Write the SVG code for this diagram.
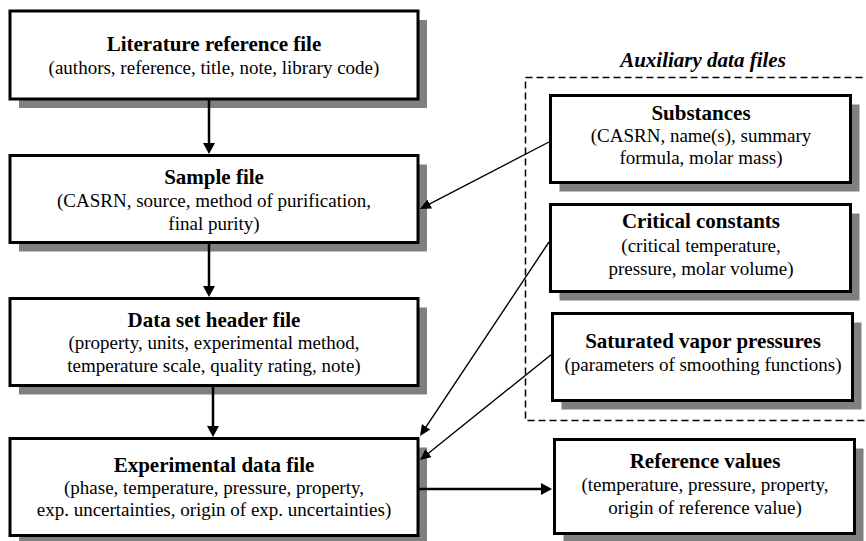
<svg xmlns="http://www.w3.org/2000/svg" width="866" height="541" viewBox="0 0 866 541">
<defs>
<marker id="ah" markerUnits="userSpaceOnUse" markerWidth="12" markerHeight="12" refX="7" refY="6" orient="auto">
<path d="M0,0 L11,6 L0,12 Z" fill="#000"/>
</marker>
<marker id="ahs" markerUnits="userSpaceOnUse" markerWidth="12" markerHeight="10" refX="7" refY="5" orient="auto">
<path d="M0,0 L11,5 L0,10 Z" fill="#000"/>
</marker>
</defs>
<rect x="0" y="0" width="866" height="541" fill="#ffffff"/>

<g id="auxiliary-group">
<text x="703" y="67" font-family="Times New Roman, Liberation Serif, serif" font-size="21" font-weight="bold" font-style="italic" text-anchor="middle">Auxiliary data files</text>
<rect x="525.5" y="77.5" width="350" height="343" fill="none" stroke="#000" stroke-width="1.5" stroke-dasharray="7,4"/>
</g>

<g id="literature">
<rect x="19" y="20" width="408" height="88" fill="#808080"/>
<rect x="10" y="11" width="408" height="88" fill="#fff" stroke="#000" stroke-width="3"/>
<text x="214" y="51" font-family="Times New Roman, Liberation Serif, serif" font-size="21" font-weight="bold" text-anchor="middle">Literature reference file</text>
<text x="214" y="74" font-family="Times New Roman, Liberation Serif, serif" font-size="19" text-anchor="middle">(authors, reference, title, note, library code)</text>
</g>

<g id="sample">
<rect x="19" y="164.5" width="408" height="87" fill="#808080"/>
<rect x="10" y="155.5" width="408" height="87" fill="#fff" stroke="#000" stroke-width="3"/>
<text x="214" y="184" font-family="Times New Roman, Liberation Serif, serif" font-size="21" font-weight="bold" text-anchor="middle">Sample file</text>
<text x="214" y="207" font-family="Times New Roman, Liberation Serif, serif" font-size="19" text-anchor="middle">(CASRN, source, method of purification,</text>
<text x="214" y="230" font-family="Times New Roman, Liberation Serif, serif" font-size="19" text-anchor="middle">final purity)</text>
</g>

<g id="header">
<rect x="19" y="307.5" width="408" height="87" fill="#808080"/>
<rect x="10" y="298.5" width="408" height="87" fill="#fff" stroke="#000" stroke-width="3"/>
<text x="214" y="327" font-family="Times New Roman, Liberation Serif, serif" font-size="21" font-weight="bold" text-anchor="middle">Data set header file</text>
<text x="214" y="349" font-family="Times New Roman, Liberation Serif, serif" font-size="19" text-anchor="middle">(property, units, experimental method,</text>
<text x="214" y="372" font-family="Times New Roman, Liberation Serif, serif" font-size="19" text-anchor="middle">temperature scale, quality rating, note)</text>
</g>

<g id="experimental">
<rect x="19" y="447.5" width="408" height="97" fill="#808080"/>
<rect x="10" y="438.5" width="408" height="97" fill="#fff" stroke="#000" stroke-width="3"/>
<text x="214" y="472" font-family="Times New Roman, Liberation Serif, serif" font-size="21" font-weight="bold" text-anchor="middle">Experimental data file</text>
<text x="214" y="494" font-family="Times New Roman, Liberation Serif, serif" font-size="19" text-anchor="middle">(phase, temperature, pressure, property,</text>
<text x="214" y="516" font-family="Times New Roman, Liberation Serif, serif" font-size="19" text-anchor="middle">exp. uncertainties, origin of exp. uncertainties)</text>
</g>

<g id="substances">
<rect x="559.5" y="104.5" width="300" height="87" fill="#808080"/>
<rect x="550.5" y="95.5" width="300" height="87" fill="#fff" stroke="#000" stroke-width="3"/>
<text x="701" y="120" font-family="Times New Roman, Liberation Serif, serif" font-size="21" font-weight="bold" text-anchor="middle">Substances</text>
<text x="701" y="142" font-family="Times New Roman, Liberation Serif, serif" font-size="19" text-anchor="middle">(CASRN, name(s), summary</text>
<text x="701" y="164" font-family="Times New Roman, Liberation Serif, serif" font-size="19" text-anchor="middle">formula, molar mass)</text>
</g>

<g id="critical">
<rect x="559.5" y="213.5" width="300" height="87" fill="#808080"/>
<rect x="550.5" y="204.5" width="300" height="87" fill="#fff" stroke="#000" stroke-width="3"/>
<text x="701" y="228" font-family="Times New Roman, Liberation Serif, serif" font-size="21" font-weight="bold" text-anchor="middle">Critical constants</text>
<text x="701" y="252" font-family="Times New Roman, Liberation Serif, serif" font-size="19" text-anchor="middle">(critical temperature,</text>
<text x="701" y="275" font-family="Times New Roman, Liberation Serif, serif" font-size="19" text-anchor="middle">pressure, molar volume)</text>
</g>

<g id="saturated">
<rect x="561.5" y="322.5" width="300" height="87" fill="#808080"/>
<rect x="552.5" y="313.5" width="300" height="87" fill="#fff" stroke="#000" stroke-width="3"/>
<text x="703" y="348" font-family="Times New Roman, Liberation Serif, serif" font-size="21" font-weight="bold" text-anchor="middle">Saturated vapor pressures</text>
<text x="703" y="371" font-family="Times New Roman, Liberation Serif, serif" font-size="19" text-anchor="middle">(parameters of smoothing functions)</text>
</g>

<g id="reference">
<rect x="563.5" y="448.5" width="300" height="94" fill="#808080"/>
<rect x="554.5" y="439.5" width="300" height="94" fill="#fff" stroke="#000" stroke-width="3"/>
<text x="705" y="468" font-family="Times New Roman, Liberation Serif, serif" font-size="21" font-weight="bold" text-anchor="middle">Reference values</text>
<text x="705" y="491" font-family="Times New Roman, Liberation Serif, serif" font-size="19" text-anchor="middle">(temperature, pressure, property,</text>
<text x="705" y="514" font-family="Times New Roman, Liberation Serif, serif" font-size="19" text-anchor="middle">origin of reference value)</text>
</g>

<g id="connectors" stroke="#000" fill="none">
<line x1="209" y1="100" x2="209" y2="150" stroke-width="2.5" marker-end="url(#ah)"/>
<line x1="209" y1="244" x2="209" y2="293" stroke-width="2.5" marker-end="url(#ah)"/>
<line x1="213" y1="387" x2="213" y2="433" stroke-width="2.5" marker-end="url(#ah)"/>
<line x1="419" y1="489" x2="548" y2="489" stroke-width="2.5" marker-end="url(#ah)"/>
<line x1="549" y1="142" x2="423.5" y2="207.2" stroke-width="1.4" marker-end="url(#ahs)"/>
<line x1="549" y1="242" x2="422.2" y2="432.7" stroke-width="1.4" marker-end="url(#ahs)"/>
<line x1="552" y1="354" x2="423.1" y2="457.5" stroke-width="1.4" marker-end="url(#ahs)"/>
</g>
</svg>
